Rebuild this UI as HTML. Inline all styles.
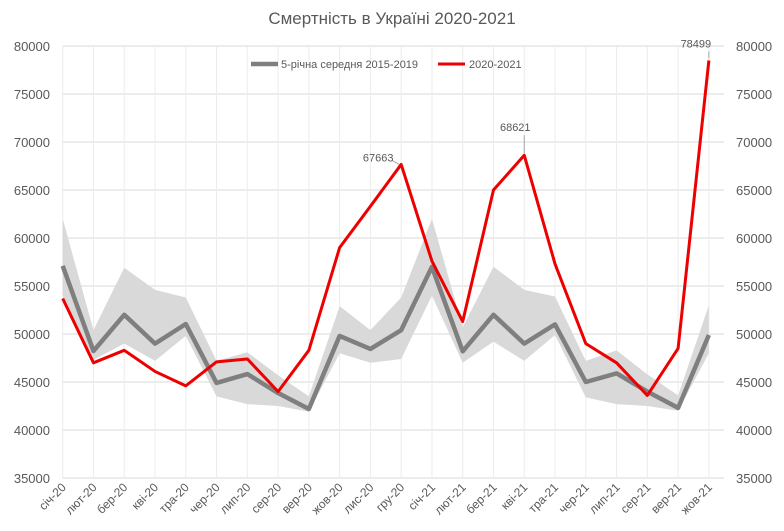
<!DOCTYPE html>
<html><head><meta charset="utf-8"><style>
body{margin:0;background:#fff;font-family:"Liberation Sans",sans-serif}
svg text{font-family:"Liberation Sans",sans-serif;fill:#595959}
</style></head><body>
<svg id="c" width="784" height="526"></svg>
<script>
const categories=["січ-20","лют-20","бер-20","кві-20","тра-20","чер-20","лип-20","сер-20","вер-20","жов-20","лис-20","гру-20","січ-21","лют-21","бер-21","кві-21","тра-21","чер-21","лип-21","сер-21","вер-21","жов-21"];
const avgValues=[57100,48230,52000,49000,51040,44900,45830,43850,42190,49800,48440,50400,57000,48200,52000,49000,51000,45000,45900,44000,42300,49900];
const bandUpper=[62000,50400,56900,54600,53800,47200,48100,45700,43500,52900,50400,53800,62000,50700,57000,54600,53900,47200,48300,45800,43600,53000];
const bandLower=[54000,47300,49000,47200,49800,43500,42700,42500,41900,48000,47000,47400,54000,47000,49200,47200,49900,43400,42700,42500,42000,48000];
const redValues=[53700,47000,48300,46100,44600,47100,47400,44000,48300,59000,63300,67663,57600,51300,65000,68621,57300,49000,47000,43600,48500,78499];
const yTicks=[35000,40000,45000,50000,55000,60000,65000,70000,75000,80000];
const labeled=[11,15,21];
const NS="http://www.w3.org/2000/svg",svg=document.getElementById('c');
const x0=62.7,dx=30.77,yMin=35000,yMax=80000,yTop=46,yBot=478;
const X=i=>x0+i*dx, Y=v=>yBot-(v-yMin)/(yMax-yMin)*(yBot-yTop);
function mk(t,a,p){const e=document.createElementNS(NS,t);for(const k in a)e.setAttribute(k,a[k]);(p||svg).appendChild(e);return e;}
yTicks.forEach(v=>{
 const l=mk('line',{x1:x0,x2:724,y1:Y(v),y2:Y(v),stroke:'#d9d9d9','stroke-width':1});
 
 
 const t1=mk('text',{x:50,y:Y(v)+5,'text-anchor':'end','font-size':13});t1.textContent=v;
 
 
 const t2=mk('text',{x:736,y:Y(v)+5,'font-size':13});t2.textContent=v;
 
 
});
categories.forEach((c,i)=>{
 const l=mk('line',{x1:X(i),x2:X(i),y1:yTop,y2:yBot,stroke:'#ececec','stroke-width':1});
 
 
 const t=mk('text',{x:X(i)+4,y:yBot+10,'text-anchor':'end','font-size':12,transform:`rotate(-45 ${X(i)+4} ${yBot+10})`});t.textContent=c;
 
 
});
let d=bandUpper.map((v,i)=>(i?'L':'M')+X(i)+','+Y(v)).join('')+bandLower.map((v,i)=>'L'+X(i)+','+Y(v)).reverse().join('')+'Z';
d=bandUpper.map((v,i)=>(i?'L':'M')+X(i)+','+Y(v)).join('');
for(let i=bandLower.length-1;i>=0;i--)d+='L'+X(i)+','+Y(bandLower[i]);
const band=mk('path',{d:d+'Z',fill:'#d9d9d9'});


const avg=mk('polyline',{points:avgValues.map((v,i)=>X(i)+','+Y(v)).join(' '),fill:'none',stroke:'#7f7f7f','stroke-width':4.5,'stroke-linejoin':'round'});


const red=mk('polyline',{points:redValues.map((v,i)=>X(i)+','+Y(v)).join(' '),fill:'none',stroke:'#ee0000','stroke-width':3,'stroke-linejoin':'round'});


labeled.forEach(i=>{
 const v=redValues[i],x=X(i),y=Y(v);
 let tx=i===11?x-23:x-9,ty=i===11?y-3:y-24;
 if(i===21){tx=x-13;ty=y-13;}
 if(i===11){const l=mk('line',{x1:x-9,y1:y-4,x2:x-2,y2:y,stroke:'#a6a6a6'});}
 else{const l=mk('line',{x1:x,y1:ty+4,x2:x,y2:y-2,stroke:'#a6a6a6'});}
 const t=mk('text',{x:tx,y:ty,'text-anchor':'middle','font-size':11,fill:'#404040'});t.textContent=v;
 
 
});
</script>
<svg style="position:absolute;left:0;top:0" width="784" height="526">
<text x="392" y="24" text-anchor="middle" font-size="17">Смертність в Україні 2020-2021</text>
<g>
<line x1="251" x2="278" y1="64" y2="64" stroke="#7f7f7f" stroke-width="4.5"/>
<text x="281" y="68" font-size="11">5-річна середня 2015-2019</text>
<line x1="438" x2="465" y1="64" y2="64" stroke="#ee0000" stroke-width="3"/>
<text x="469" y="68" font-size="11">2020-2021</text>
</g>
</svg>
</body></html>
